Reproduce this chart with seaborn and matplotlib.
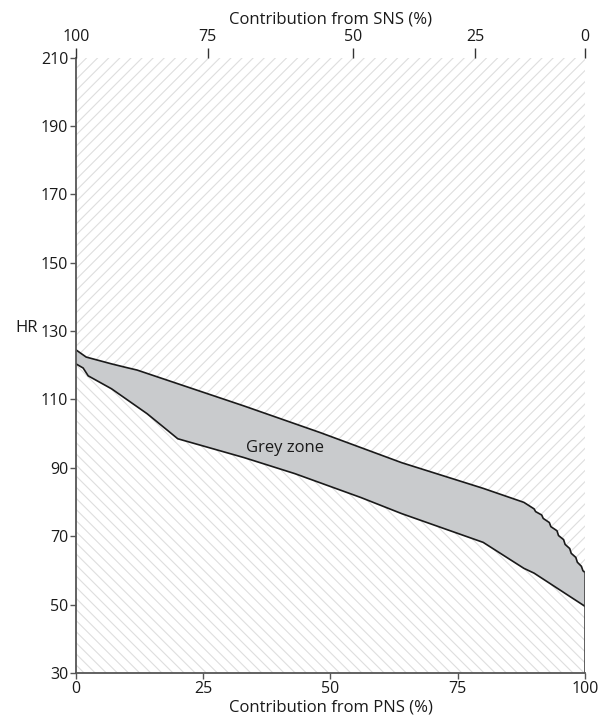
import matplotlib
matplotlib.use("Agg")
import matplotlib.pyplot as plt
import seaborn as sns
import pandas as pd
import numpy as np

# ---- data ----
upper_x = [0, 2, 7, 10, 12, 23, 33, 43, 48, 56, 64, 80, 88,
           90, 90.3, 91.5, 91.8, 93, 93.3, 94.5, 94.8, 95.8, 96.1,
           97, 97.3, 98.2, 98.5, 99.3, 99.6, 100]
upper_hr = [124.5, 122.4, 120.4, 119.3, 118.6, 113.1, 108.1, 102.9, 100.3, 95.9, 91.5, 84.0, 79.9,
            78.0, 77.2, 76.2, 75.2, 74.0, 72.8, 71.6, 70.2, 69.0, 67.6,
            66.4, 65.0, 63.8, 62.4, 61.2, 59.9, 59.4]
lower_x = [0, 1.4, 2.4, 7, 14, 20, 33, 43, 56, 64, 80, 88, 90, 100]
lower_hr = [120.4, 119.2, 116.9, 113.1, 105.8, 98.5, 93.0, 88.3, 81.3, 76.6, 68.2, 60.6, 59.2, 49.5]

pns_ticks = [0, 25, 50, 75, 100]
hr_ticks = [30, 50, 70, 90, 110, 130, 150, 170, 190, 210]
sns_tick_pos = [0, 25.9, 54.4, 78.4, 100]
sns_tick_labels = ["100", "75", "50", "25", "0"]

sns.set_style("ticks")
plt.rcParams['font.family'] = ['Open Sans', 'DejaVu Sans']
plt.rcParams['hatch.linewidth'] = 0.8

fig = plt.figure(figsize=(6.04, 7.21), dpi=100)
ax = fig.add_axes([0.1258, 0.0666, 0.8427, 0.8536])

up = pd.DataFrame({"x": upper_x, "hr": upper_hr})
lo = pd.DataFrame({"x": lower_x, "hr": lower_hr})

hatch_col = "#dedede"
# hatched backgrounds
ax.fill_between(up["x"], up["hr"], 210, facecolor="white", edgecolor=hatch_col,
                hatch="///", linewidth=0, zorder=0)
ax.fill_between(lo["x"], 30, lo["hr"], facecolor="white", edgecolor=hatch_col,
                hatch="\\\\\\", linewidth=0, zorder=0)

# grey zone
xs = np.array(upper_x + lower_x[::-1])
ys = np.array(upper_hr + lower_hr[::-1])
ax.fill(xs, ys, facecolor="#c9cbcd", edgecolor="none", zorder=1)
sns.lineplot(data=up, x="x", y="hr", ax=ax, color="#1a1a1a", lw=1.2, sort=False, zorder=2)
sns.lineplot(data=lo, x="x", y="hr", ax=ax, color="#1a1a1a", lw=1.2, sort=False, zorder=2)
ax.plot([100, 100], [30, upper_hr[-1]], color="#444444", lw=1.2, zorder=2)

ax.text(41, 95.9, "Grey zone", ha="center", va="center", fontsize=12, color="#1a1a1a")

ax.set_xlim(0, 100)
ax.set_ylim(30, 210)
ax.set_xticks(pns_ticks)
ax.set_yticks(hr_ticks)
ax.tick_params(axis="both", direction="out", length=4, width=1, color="#555555",
               labelsize=11.5, labelcolor="#1a1a1a", pad=1.5)
for s in ["top", "right"]:
    ax.spines[s].set_visible(False)
for s in ["left", "bottom"]:
    ax.spines[s].set_color("#555555")
    ax.spines[s].set_linewidth(1.3)
ax.set_xlabel("Contribution from PNS (%)", fontsize=12, color="#1a1a1a", labelpad=2)
ax.set_ylabel("HR", fontsize=12, color="#1a1a1a", rotation=0, labelpad=0)
ax.yaxis.set_label_coords(-0.096, 0.548)

ax2 = ax.twiny()
ax2.set_xlim(0, 100)
ax2.set_xticks(sns_tick_pos)
ax2.set_xticklabels(sns_tick_labels)
ax2.tick_params(axis="x", direction="out", length=7, width=1, color="#333333",
                labelsize=11.5, labelcolor="#1a1a1a", pad=2)
for s in ax2.spines.values():
    s.set_visible(False)
ax2.set_xlabel("Contribution from SNS (%)", fontsize=12, color="#1a1a1a", labelpad=4)

fig.savefig("out.png", dpi=100)
